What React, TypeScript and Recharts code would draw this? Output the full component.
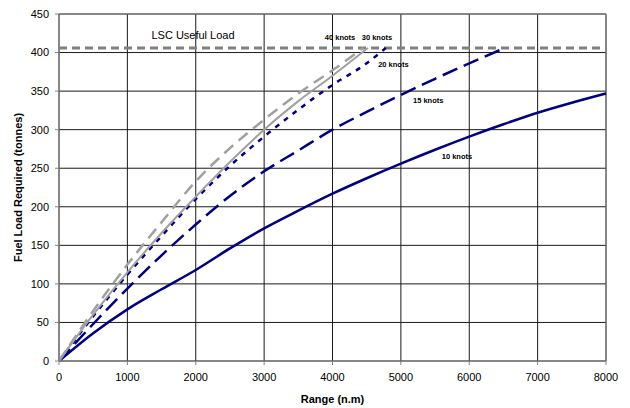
import { LineChart, Line, XAxis, YAxis, CartesianGrid, ReferenceLine, ReferenceDot, Label } from 'recharts';

// Fuel load (tonnes) against range (n.m) for each cruise speed
const range10 = [0, 500, 1000, 1500, 2000, 2500, 3000, 3500, 4000, 4500, 5000, 5500, 6000, 6500, 7000, 7500, 8000];
const fuel10 = [0, 36, 67, 93, 118, 146, 172, 195, 217, 237, 256, 274, 291, 307, 322, 335, 347];

const range15 = [0, 500, 1000, 1500, 2000, 2500, 3000, 3500, 4000, 4500, 5000, 5500, 6000, 6520];
const fuel15 = [0, 48, 94, 137, 177, 214, 246, 273, 300, 323, 345, 366, 386, 406];

const range20 = [0, 500, 1000, 1500, 2000, 2500, 3000, 3500, 4000, 4500, 4780];
const fuel20 = [0, 58, 112, 162, 210, 253, 291, 326, 358, 386, 406];

const range30 = [0, 500, 1000, 1500, 2000, 2500, 3000, 3500, 4000, 4520];
const fuel30 = [0, 60, 115, 166, 213, 258, 300, 337, 370, 406];

const range40 = [0, 500, 1000, 1500, 2000, 2500, 3000, 3500, 4000, 4450];
const fuel40 = [0, 65, 125, 180, 233, 276, 313, 347, 377, 406];

const usefulLoad = 406;

const xTicks = [0, 1000, 2000, 3000, 4000, 5000, 6000, 7000, 8000];
const yTicks = [0, 50, 100, 150, 200, 250, 300, 350, 400, 450];

// where the text annotations sit, in chart units
const speedLabels = [
  { text: '40 knots', x: 4110, y: 420 },
  { text: '30 knots', x: 4650, y: 420 },
  { text: '20 knots', x: 4890, y: 385 },
  { text: '15 knots', x: 5400, y: 338 },
  { text: '10 knots', x: 5820, y: 265 },
];
const loadLabel = { text: 'LSC Useful Load', x: 1960, y: 423 };

const toPoints = (xs: number[], ys: number[]) => xs.map((r, i) => ({ range: r, fuel: ys[i] }));

const NAVY = '#000080';
const GREY = '#a0a0a0';

export default function App() {
  return (
    <div
      style={{
        position: 'absolute',
        left: 0,
        top: 0,
        width: 630,
        height: 408,
        background: '#fff',
        fontFamily: '"Liberation Sans", Arial, sans-serif',
      }}
    >
      <LineChart width={630} height={408} margin={{ top: 14, right: 24, left: 0, bottom: 0 }}>
        <CartesianGrid stroke="#1a1a1a" strokeWidth={1} />
        <XAxis
          dataKey="range"
          type="number"
          domain={[0, 8000]}
          ticks={xTicks}
          height={47}
          tickSize={4}
          tickMargin={8}
          stroke="#808080"
          tick={{ fill: '#000', fontSize: 11 }}
        >
          <Label
            value="Range (n.m)"
            position="insideBottom"
            offset={5}
            style={{ fontSize: 11, fontWeight: 'bold', fill: '#000' }}
          />
        </XAxis>
        <YAxis
          dataKey="fuel"
          type="number"
          domain={[0, 450]}
          ticks={yTicks}
          width={59}
          tickSize={4}
          tickMargin={6}
          stroke="#808080"
          tick={{ fill: '#000', fontSize: 11 }}
        >
          <Label
            content={({ viewBox }: any) => {
              const cx = 18;
              const cy = viewBox.y + viewBox.height / 2;
              return (
                <text
                  x={cx}
                  y={cy}
                  transform={`rotate(-90, ${cx}, ${cy})`}
                  textAnchor="middle"
                  dominantBaseline="central"
                  fontSize={11}
                  fontWeight="bold"
                  fill="#000"
                >
                  Fuel Load Required (tonnes)
                </text>
              );
            }}
          />
        </YAxis>

        {/* plot frame on top and right */}
        <ReferenceLine y={450} stroke="#808080" strokeWidth={1} />
        <ReferenceLine x={8000} stroke="#808080" strokeWidth={1} />

        <ReferenceLine y={usefulLoad} stroke="#808080" strokeWidth={3} strokeDasharray="8 5" />
        <ReferenceDot
          x={loadLabel.x}
          y={loadLabel.y}
          r={0}
          stroke="none"
          label={{ value: loadLabel.text, position: 'center', fontSize: 11, fill: '#000' }}
        />

        <Line data={toPoints(range10, fuel10)} dataKey="fuel" type="monotone" stroke={NAVY} strokeWidth={2.5} dot={false} isAnimationActive={false} />
        <Line data={toPoints(range15, fuel15)} dataKey="fuel" type="monotone" stroke={NAVY} strokeWidth={2.5} strokeDasharray="16 7" dot={false} isAnimationActive={false} />
        <Line data={toPoints(range20, fuel20)} dataKey="fuel" type="monotone" stroke={NAVY} strokeWidth={2.5} strokeDasharray="5 6" dot={false} isAnimationActive={false} />
        <Line data={toPoints(range30, fuel30)} dataKey="fuel" type="monotone" stroke={GREY} strokeWidth={2} dot={false} isAnimationActive={false} />
        <Line data={toPoints(range40, fuel40)} dataKey="fuel" type="monotone" stroke={GREY} strokeWidth={2.5} strokeDasharray="12 7" dot={false} isAnimationActive={false} />

        {speedLabels.map((s) => (
          <ReferenceDot
            key={s.text}
            x={s.x}
            y={s.y}
            r={0}
            stroke="none"
            label={{ value: s.text, position: 'center', fontSize: 7.5, fontWeight: 'bold', fill: '#000' }}
          />
        ))}
      </LineChart>
    </div>
  );
}
